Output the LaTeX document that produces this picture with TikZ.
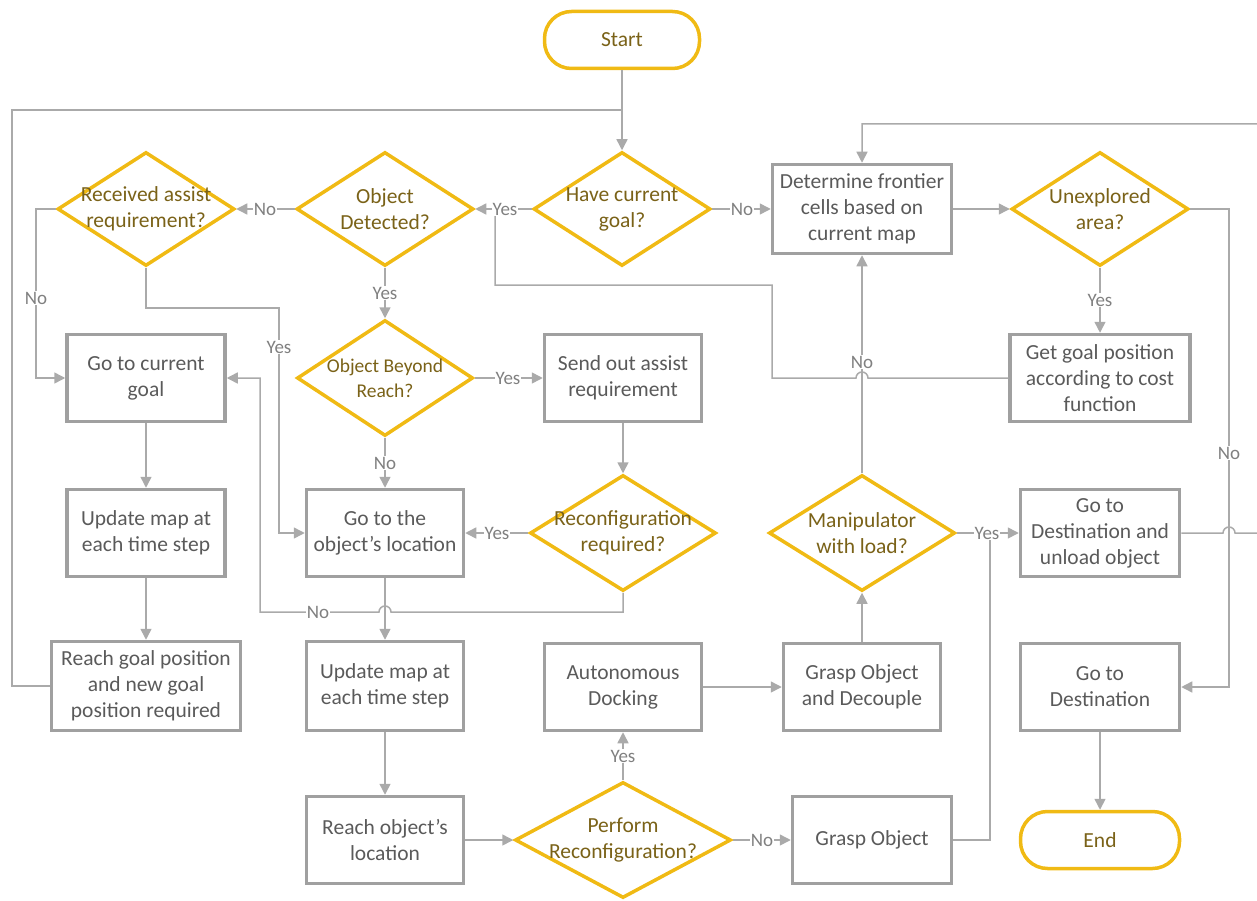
\documentclass[tikz,border=0pt]{standalone}
\usepackage{fontspec}
\setmainfont{Carlito}
\usetikzlibrary{shapes.geometric,arrows.meta}
\definecolor{gold}{RGB}{240,186,20}
\definecolor{olivetxt}{RGB}{122,98,24}
\definecolor{boxgray}{RGB}{160,160,160}
\definecolor{linegray}{RGB}{170,170,170}
\definecolor{boxtxt}{RGB}{90,90,90}
\definecolor{lbltxt}{RGB}{128,128,128}
\newcommand\mainfnt{\fontsize{21.5}{26}\selectfont}
\newcommand\smfnt{\fontsize{19.5}{25}\selectfont}
\newcommand\lblfnt{\fontsize{19}{21}\selectfont}
\tikzset{
  box/.style={draw=boxgray, line width=3.5pt, minimum width=157pt, minimum height=87pt,
    align=center, text=boxtxt, font=\mainfnt, inner sep=1pt},
  dia/.style={diamond, draw=gold, line width=3.5pt, minimum width=177pt, minimum height=114pt, inner sep=0pt},
  dtxt/.style={text=olivetxt, align=center, font=\mainfnt, inner sep=0pt},
  term/.style={draw=gold, line width=3.5pt, rounded corners=27pt, minimum width=155pt,
    minimum height=57pt, text=olivetxt, font=\mainfnt},
  conn/.style={draw=linegray, line width=1.5pt, -{Triangle[length=11pt,width=11pt]}},
  plain/.style={draw=linegray, line width=1.5pt},
  lbl/.style={fill=white, text=lbltxt, font=\lblfnt, inner sep=1pt}
}
\begin{document}
\begin{tikzpicture}[x=1pt,y=-1pt]
\useasboundingbox (0,0) rectangle (1257,901);
% terminals
\node[term] (start) at (622,40) {Start};
\node[term, minimum width=159pt] (end) at (1100,840) {End};
% diamonds
\node[dia, label={[dtxt]center:{Received assist\\requirement?}}] (recv) at (146,209) {};
\node[dia, label={[dtxt]center:{Object\\Detected?}}] (objdet) at (385,209) {};
\node[dia, label={[dtxt]center:{Have current\\goal?}}] (hcg) at (622,209) {};
\node[dia, label={[dtxt]center:{Unexplored\\area?}}] (unexp) at (1100,209) {};
\node[dia, minimum width=176pt, minimum height=116pt, label={[dtxt,font=\smfnt]center:{Object Beyond\\Reach?}}] (beyond) at (385,378) {};
\node[dia, minimum width=186pt, minimum height=116pt, label={[dtxt]center:{Reconfiguration\\required?}}] (recq) at (623,533) {};
\node[dia, minimum width=186pt, minimum height=116pt, label={[dtxt]center:{Manipulator\\with load?}}] (manip) at (862,533) {};
\node[dia, minimum width=216pt, minimum height=116pt, label={[dtxt]center:{Perform\\Reconfiguration?}}] (perform) at (623,840) {};
% boxes
\node[box, minimum width=179pt, minimum height=89pt] (frontier) at (862,209) {Determine frontier\\cells based on\\current map};
\node[box, minimum width=180pt] (getgoal) at (1100,378) {Get goal position\\according to cost\\function};
\node[box, minimum width=158pt] (gocur) at (146,378) {Go to current\\goal};
\node[box] (send) at (623,378) {Send out assist\\requirement};
\node[box] (goobj) at (385,533) {Go to the\\object’s location};
\node[box, minimum width=158pt] (updL) at (146,533) {Update map at\\each time step};
\node[box, minimum width=159pt] (unload) at (1100,533) {Go to\\Destination and\\unload object};
\node[box, minimum width=189pt, minimum height=89pt] (reachgoal) at (146,686) {Reach goal position\\and new goal\\position required};
\node[box, minimum height=89pt] (updM) at (385,686) {Update map at\\each time step};
\node[box] (dock) at (623,687) {Autonomous\\Docking};
\node[box] (decouple) at (862,687) {Grasp Object\\and Decouple};
\node[box, minimum width=159pt] (godest) at (1100,687) {Go to\\Destination};
\node[box] (reachobj) at (385,840) {Reach object’s\\location};
\node[box, minimum width=159pt] (grasp) at (872,840) {Grasp Object};
% connectors
\draw[conn] (start) -- (hcg);
\draw[plain] (reachgoal.west) -- (12,686) -- (12,110) -- (622,110);
\draw[conn] (hcg.west) -- (objdet.east);
\draw[conn] (hcg.east) -- (frontier.west);
\draw[conn] (objdet.west) -- (recv.east);
\draw[conn] (objdet.south) -- (beyond.north);
\draw[conn] (recv.west) -- (36,209) |- (gocur.west);
\draw[conn] (recv.south) -- (146,308) -- (279,308) |- (goobj.west);
\draw[conn] (beyond.east) -- (send.west);
\draw[conn] (beyond.south) -- (goobj.north);
\draw[conn] (send.south) -- (recq.north);
\draw[conn] (recq.west) -- (goobj.east);
\draw[conn] (recq.south) -- (623,612) -- (391,612) arc[start angle=0,end angle=-180,radius=6] -- (260,612) |- (gocur.east);
\draw[conn] (gocur.south) -- (updL.north);
\draw[conn] (updL.south) -- (reachgoal.north);
\draw[conn] (goobj.south) -- (updM.north);
\draw[conn] (updM.south) -- (reachobj.north);
\draw[conn] (reachobj.east) -- (perform.west);
\draw[conn] (perform.north) -- (dock.south);
\draw[conn] (perform.east) -- (grasp.west);
\draw[conn] (dock.east) -- (decouple.west);
\draw[conn] (decouple.north) -- (manip.south);
\draw[plain] (grasp.east) -- (990,840) -- (990,533);
\draw[conn] (manip.east) -- (unload.west);
\draw[conn] (manip.north) -- (frontier.south);
\draw[conn] (frontier.east) -- (unexp.west);
\draw[conn] (unexp.south) -- (getgoal.north);
\draw[conn] (unexp.east) -- (1229,209) |- (godest.east);
\draw[conn] (unload.east) -- (1223,533) arc[start angle=180,end angle=360,radius=6] -- (1266,533) -- (1266,124) -| (frontier.north);
\draw[plain] (getgoal.west) -- (868,378) arc[start angle=0,end angle=-180,radius=6] -- (772,378) -- (772,285) -- (495,285) -- (495,209);
\draw[conn] (godest.south) -- (end.north);
% labels
\node[lbl] (l1) at (505,209) {Yes};
\node[lbl] (l2) at (742,209) {No};
\node[lbl] (l3) at (265,209) {No};
\node[lbl] (l4) at (385,293) {Yes};
\node[lbl] (l5) at (36,298) {No};
\node[lbl] (l6) at (279,347) {Yes};
\node[lbl] (l7) at (508,378) {Yes};
\node[lbl] (l8) at (385,463) {No};
\node[lbl] (l9) at (497,533) {Yes};
\node[lbl] (l10) at (318,612) {No};
\node[lbl] (l11) at (623,756) {Yes};
\node[lbl] (l12) at (762,840) {No};
\node[lbl] (l13) at (987,533) {Yes};
\node[lbl] (l14) at (862,362) {No};
\node[lbl] (l15) at (1100,300) {Yes};
\node[lbl] (l16) at (1229,453) {No};
\end{tikzpicture}
\end{document}
